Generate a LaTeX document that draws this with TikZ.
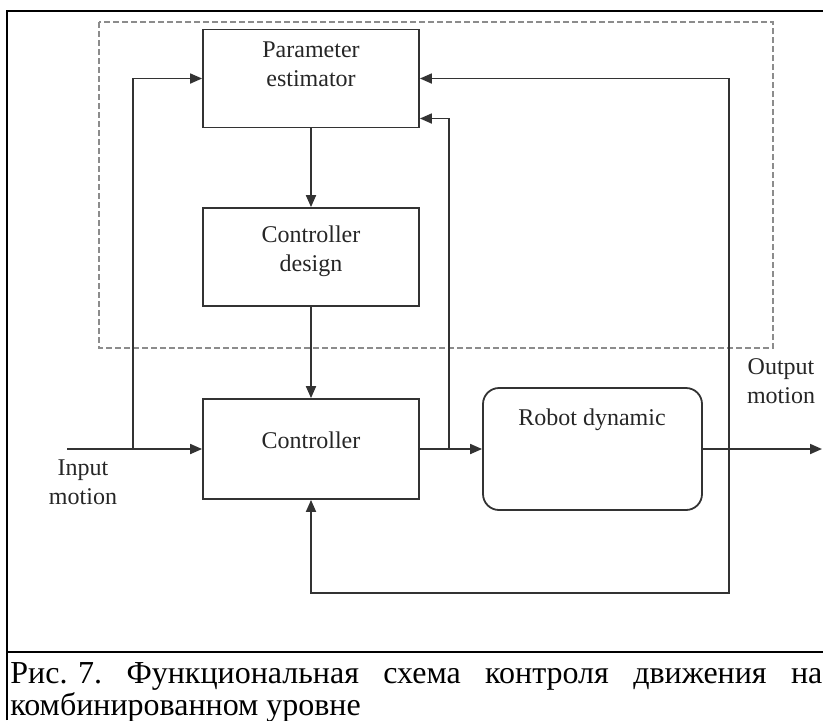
\documentclass[tikz,border=0pt]{standalone}
\usepackage{fontspec}
\setmainfont{Liberation Serif}
\usetikzlibrary{positioning,arrows.meta}

\begin{document}
\begin{tikzpicture}[x=0.5pt,y=-0.5pt]
   \tikzstyle{block}=[draw=black!80, line width=0.9pt, minimum width=108pt, minimum height=49pt, inner sep=0pt]
   \tikzstyle{txt}=[align=center, inner sep=0pt, text=black!85, font=\fontsize{12}{14.5}\selectfont]
   \tikzstyle{line}=[draw=black!80, line width=0.9pt]
   \tikzstyle{arr}=[line, -{Triangle[length=6pt,width=5pt]}]

\useasboundingbox (0,0) rectangle (823,720);
\draw[line width=1.3pt] (7,720) -- (7,11) -- (823,11);
\draw[line width=0.9pt] (7,652) -- (823,652);
\draw[black!45, dash pattern=on 3pt off 1.5pt, line width=0.6pt] (99,22) rectangle (773,348);

\node[block] (pe) at (311,78.5) {};
\node[block] (cd) at (311,257) {};
\node[block, minimum height=50pt] (ctl) at (311,449) {};
\node[block, rounded corners=8pt, minimum width=109.5pt, minimum height=61pt] (rd) at (592.5,449) {};

\node[txt] (pe-t) at (311,64.5) {Parameter\\estimator};
\node[txt] (cd-t) at (311,251) {Controller\\design};
\node[txt] (ctl-t) at (311,440) {Controller};
\node[txt] (rd-t) at (592,420) {Robot dynamic};
\node[txt] (in-t) at (83,482.5) {Input\\motion};
\node[txt] (out-t) at (781,381.5) {Output\\motion};

\coordinate (in) at (67,449);
\coordinate (out) at (822,449);
\coordinate (b1) at (133,449);
\coordinate (b2) at (449,449);
\coordinate (b3) at (729,449);
\coordinate (c1) at (729,593);

\draw[arr] (in) -- (ctl.west);
\draw[arr] (b1) |- (pe.west);
\draw[arr] (ctl.east) -- (rd.west);
\draw[arr] (b2) |- ([yshift=-20pt]pe.east);
\draw[arr] (rd.east) -- (out);
\draw[arr] (b3) |- (pe.east);
\draw[arr] (b3) -- (c1) -| (ctl.south);
\draw[arr] (pe) -- (cd);
\draw[arr] (cd) -- (ctl);

\node[anchor=north west, inner sep=0pt, text width=406pt, align=justify, font=\fontsize{16}{14.5}\selectfont] (cap) at (10,662) {\hbox{Рис. 7.} Функциональная схема контроля движения на\linebreak комбинированном уровне};

\end{tikzpicture}
\end{document}
